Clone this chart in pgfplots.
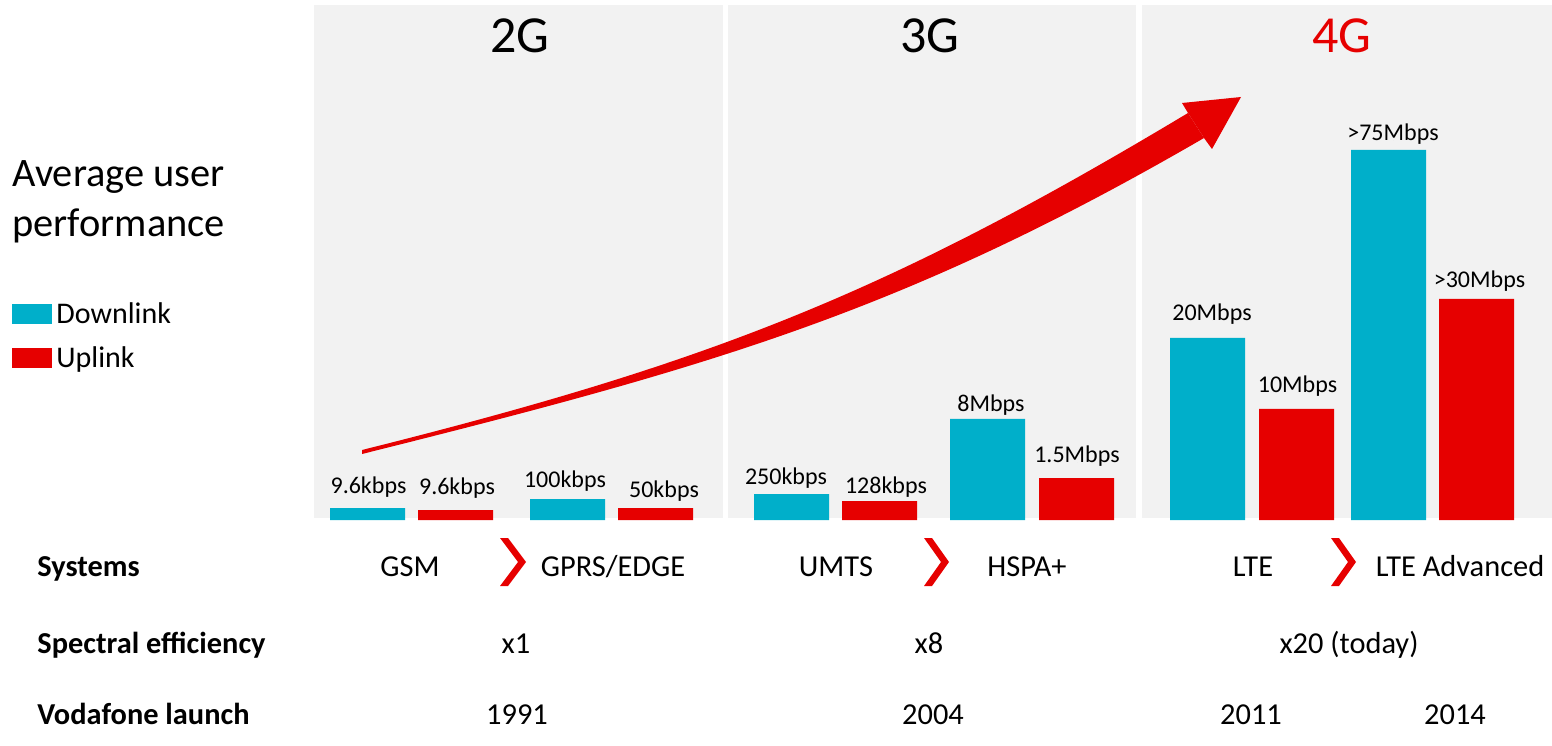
\documentclass[border=0pt]{standalone}
\usepackage{fontspec}
\setmainfont{Carlito}
\usepackage{pgfplots}
\usepackage{pgfplotstable}
\pgfplotsset{compat=1.18}
\definecolor{vfcyan}{HTML}{00AFCA}
\definecolor{vfred}{HTML}{E60000}
\definecolor{panel}{HTML}{F2F2F2}

\pgfplotstableread{
x h
367.5 12
567.5 21
791.5 26
987.5 101
1207.5 182
1388.5 370
}\downlink
\pgfplotstableread{
x h
455.5 10
655.5 12
879.5 19
1076.5 42
1296.5 111
1476.5 221
}\uplink
\pgfplotstableread{
x y label
368.5 27 9.6kbps
457 25 9.6kbps
565 32 100kbps
664 23 50kbps
786 36 250kbps
886 27 128kbps
991 108 8Mbps
1077 58 1.5Mbps
1212 199 20Mbps
1297.5 127 10Mbps
1393 379 >75Mbps
1479.5 232 >30Mbps
}\labels

\begin{document}
\begin{tikzpicture}
\begin{axis}[
  hide axis, x=0.5pt, y=0.5pt,
  xmin=0, xmax=1552, ymin=-225, ymax=520, clip=false,
  legend style={at={(axis cs:12,222)}, anchor=north west, draw=none, fill=none,
    font=\fontsize{15}{18}\selectfont, inner sep=0pt, row sep=6pt,
    legend cell align=left,
    /tikz/every even column/.append style={column sep=4.5pt}},
  legend image code/.code={\fill[#1] (0pt,-5pt) rectangle (20pt,5pt);},
]
% background frame
\path (axis cs:0,-225) rectangle (axis cs:1552,520);
% panels
\fill[panel] (axis cs:314,2) rectangle (axis cs:723,515);
\fill[panel] (axis cs:728,2) rectangle (axis cs:1136,515);
\fill[panel] (axis cs:1142,2) rectangle (axis cs:1552,515);

\addplot[ybar, bar width=75, bar shift=0pt, draw=none, fill=vfcyan] table[x=x, y=h] {\downlink};
\addplot[ybar, bar width=75, bar shift=0pt, draw=none, fill=vfred] table[x=x, y=h] {\uplink};
\legend{Downlink, Uplink}

\addplot[only marks, mark=*, mark size=0pt, mark options={draw=none, fill=none},
  nodes near coords, point meta=explicit symbolic,
  nodes near coords style={anchor=base, inner sep=0pt, font=\fontsize{12}{14}\selectfont, text=black},
  forget plot] table[x=x, y=y, meta=label] {\labels};

% arrow
\fill[vfred] (axis cs:362,70) .. controls (axis cs:712,157.5) and (axis cs:888,227) .. (axis cs:1188,407)
  -- (axis cs:1204,382) .. controls (axis cs:904,208) and (axis cs:712,153.5) .. (axis cs:362,66) -- cycle;
\fill[vfred] (axis cs:1188,407) -- (axis cs:1182,417) -- (axis cs:1241,423) -- (axis cs:1212,371) -- (axis cs:1204,382) -- cycle;

% titles
\node[anchor=base, inner sep=0pt, font=\fontsize{26}{30}\selectfont] at (axis cs:520,467) {2G};
\node[anchor=base, inner sep=0pt, font=\fontsize{26}{30}\selectfont] at (axis cs:930,467) {3G};
\node[anchor=base, inner sep=0pt, font=\fontsize{26}{30}\selectfont, text=vfred] at (axis cs:1342,467) {4G};

\node[anchor=base west, inner sep=0pt, font=\fontsize{20.2}{25}\selectfont] at (axis cs:12,333) {Average user};
\node[anchor=base west, inner sep=0pt, font=\fontsize{20.2}{25}\selectfont] at (axis cs:12,283) {performance};

% rows
\node[anchor=base west, inner sep=0pt, font=\fontsize{15.2}{18}\selectfont\bfseries] at (axis cs:37,-56) {Systems};
\node[anchor=base west, inner sep=0pt, font=\fontsize{15.2}{18}\selectfont\bfseries] at (axis cs:37,-133) {Spectral efficiency};
\node[anchor=base west, inner sep=0pt, font=\fontsize{15.2}{18}\selectfont\bfseries] at (axis cs:37,-204) {Vodafone launch};

\begin{scope}[every node/.style={anchor=base, inner sep=0pt, font=\fontsize{15.2}{18}\selectfont}]
\node at (axis cs:410,-56) {GSM};
\node at (axis cs:613,-56) {GPRS/EDGE};
\node at (axis cs:836,-56) {UMTS};
\node at (axis cs:1027,-56) {HSPA+};
\node at (axis cs:1253,-56) {LTE};
\node at (axis cs:1460,-56) {LTE Advanced};
\node at (axis cs:516,-133) {x1};
\node at (axis cs:929,-133) {x8};
\node at (axis cs:1349,-133) {x20 (today)};
\node at (axis cs:517,-204) {1991};
\node at (axis cs:933,-204) {2004};
\node at (axis cs:1251,-204) {2011};
\node at (axis cs:1455,-204) {2014};
\end{scope}

% chevrons
\fill[vfred] (axis cs:500,-18) -- (axis cs:508,-18) -- (axis cs:526,-42) -- (axis cs:508,-66) -- (axis cs:500,-66) -- (axis cs:518,-42) -- cycle;
\fill[vfred] (axis cs:924,-18) -- (axis cs:932,-18) -- (axis cs:949,-42) -- (axis cs:932,-66) -- (axis cs:924,-66) -- (axis cs:941,-42) -- cycle;
\fill[vfred] (axis cs:1331,-18) -- (axis cs:1339,-18) -- (axis cs:1356,-42) -- (axis cs:1339,-66) -- (axis cs:1331,-66) -- (axis cs:1348,-42) -- cycle;
\end{axis}
\end{tikzpicture}
\end{document}
